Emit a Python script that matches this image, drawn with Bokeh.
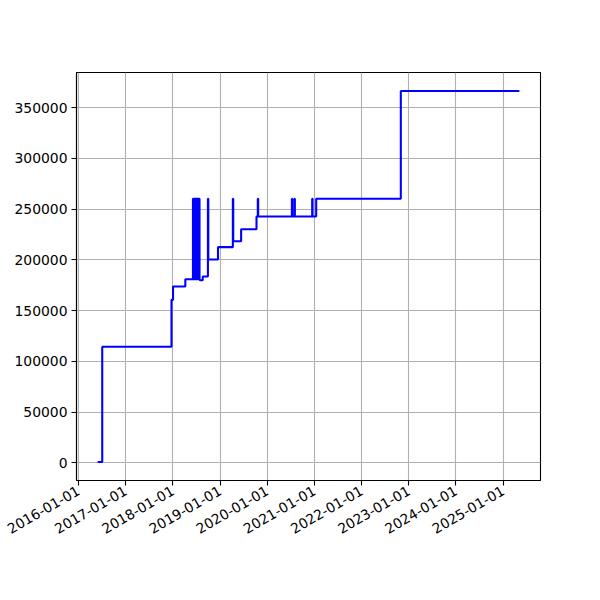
import math
import pandas as pd
from bokeh.plotting import figure
from bokeh.models import FixedTicker, Range1d, NumeralTickFormatter
from bokeh.embed import file_html
from bokeh.resources import INLINE

# ---- data ----
dates = [
    "2016-05-28", "2016-07-03", "2017-12-21", "2018-01-02", "2018-04-07",
    "2018-06-05", "2018-06-07", "2018-06-09", "2018-06-11", "2018-06-13",
    "2018-06-16", "2018-06-18", "2018-06-21", "2018-06-23", "2018-06-26",
    "2018-06-28", "2018-07-01", "2018-07-03", "2018-07-06", "2018-07-08",
    "2018-07-11", "2018-07-13", "2018-07-16", "2018-07-18", "2018-07-21",
    "2018-07-23", "2018-07-26", "2018-07-28",
    "2018-08-20", "2018-09-29", "2018-10-02", "2018-12-16",
    "2019-04-10", "2019-04-13", "2019-06-13", "2019-10-10",
    "2019-10-20", "2019-10-23",
    "2020-07-10", "2020-07-13", "2020-07-30", "2020-08-02",
    "2020-12-14", "2020-12-17", "2021-01-14",
    "2022-10-31", "2025-05-06",
]
values = [
    1000, 114500, 160700, 173800, 181000,
    260300, 181000, 260300, 181000, 260300,
    181000, 260300, 181000, 260300, 181000,
    260300, 181000, 260300, 181000, 260300,
    181000, 260300, 181000, 260300, 181000,
    260300, 181000, 180000,
    183700, 260300, 200400, 212600,
    260300, 218500, 230300, 242800,
    260300, 242800,
    260300, 242800, 260300, 242800,
    260300, 242800, 260300,
    366400, 366400,
]
x_tick_labels = ["2016-01-01", "2017-01-01", "2018-01-01", "2019-01-01", "2020-01-01",
                 "2021-01-01", "2022-01-01", "2023-01-01", "2024-01-01", "2025-01-01"]
y_ticks = [0, 50000, 100000, 150000, 200000, 250000, 300000, 350000]

x = pd.to_datetime(dates)

# matplotlib-like 5% margins
xmin, xmax = x.min(), x.max()
xpad = (xmax - xmin) * 0.05
ymin, ymax = min(values), max(values)
ypad = (ymax - ymin) * 0.05

p = figure(width=584, height=584, output_backend="svg", toolbar_location=None,
           x_axis_type="datetime",
           x_range=Range1d(xmin - xpad, xmax + xpad),
           y_range=Range1d(ymin - ypad, ymax + ypad),
           min_border_left=76, min_border_right=44, min_border_top=72, min_border_bottom=104)

p.step(x, values, mode="after", line_color="blue", line_width=2.08)

xt = [pd.Timestamp(s).value / 1e6 for s in x_tick_labels]
p.xaxis.ticker = FixedTicker(ticks=xt)
p.xaxis.major_label_overrides = {t: s for t, s in zip(xt, x_tick_labels)}
p.xaxis.major_label_orientation = math.pi / 6
p.yaxis.ticker = FixedTicker(ticks=y_ticks)
p.yaxis.formatter = NumeralTickFormatter(format="0")

for ax in (p.xaxis, p.yaxis):
    ax.major_label_text_font = "DejaVu Sans"
    ax.major_label_text_font_size = "13.9px"
    ax.major_label_text_color = "black"
    ax.axis_line_color = "black"
    ax.axis_line_width = 1.1
    ax.major_tick_line_color = "black"
    ax.major_tick_line_width = 1.1
    ax.major_tick_in = 0
    ax.major_tick_out = 5
    ax.minor_tick_line_color = None
    ax.major_label_standoff = 4

p.grid.grid_line_color = "#b0b0b0"
p.grid.grid_line_width = 1.1
p.outline_line_color = "black"
p.outline_line_width = 1.1
p.background_fill_color = "white"
p.border_fill_color = "white"

open("out.html", "w").write(file_html(p, INLINE))
